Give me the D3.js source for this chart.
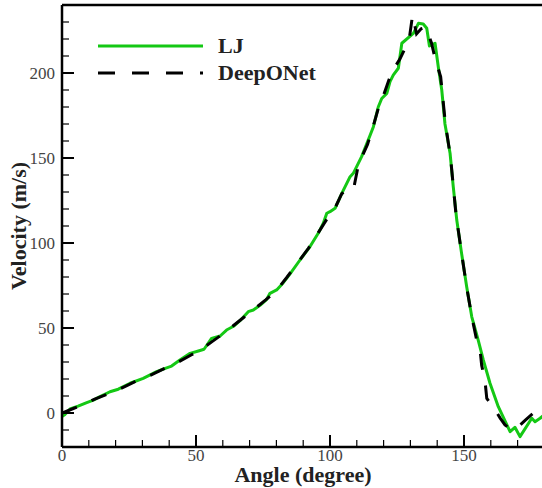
<!DOCTYPE html>
<html>
<head>
<meta charset="utf-8" />
<title>Velocity vs angle</title>
<script src="https://d3js.org/d3.v7.min.js"></script>
<style>
html, body { margin: 0; background: #fff; }
svg { display: block; }
</style>
</head>
<body>
<script>
// LJ reference curve (angle in degree, velocity in m/s)
var ljAngle = [0, 1, 3, 6, 9, 11.7, 14, 17.9, 21, 25.4, 30.3, 35.3, 38, 40.9, 44, 47.8, 50.9, 53, 55.8, 59,
  61.4, 64, 66.4, 69.5, 71.4, 74, 76.4, 77.6, 80.1, 82.5, 85.1, 88.8, 92.5, 95.6, 97.5, 98.8, 100, 101.9, 104.4, 107.5,
  108.7, 111.8, 115, 116.2, 118, 119.3, 121.2, 122.4, 123.6, 125.5, 126.8, 131.1, 133, 134.8, 136.1, 137.1, 139.2, 140.4, 141.7, 142.9,
  144.8, 146, 147.3, 149.1, 151, 152.9, 155.3, 157.2, 159.7, 162.8, 167.2, 169, 170.9, 175.3, 176.5, 178.4, 180];
var ljVel = [-2, -1, 2.4, 4, 6, 7.6, 9.5, 12.5, 14, 17.5, 20.4, 24.3, 26, 27.6, 31.2, 35.1, 36.5, 37.5, 43.9, 45.3,
  48.8, 51, 54.3, 59.6, 60.6, 63.5, 66.9, 70.4, 72.4, 76.5, 81.8, 90, 97.8, 105.7, 111.6, 117.5, 118.4, 120.4, 129.2, 139,
  141, 150.8, 163.5, 168.4, 180, 185, 188, 194.9, 198.8, 202.8, 217.5, 223.3, 229.2, 228.8, 226.3, 215.9, 217.5, 203.7, 190, 170,
  152.8, 133, 113.5, 93.9, 74.3, 56.6, 42.9, 31.2, 17.5, 3.7, -11, -8.4, -13.9, -3.1, -5.1, -3.1, -1];

// DeepONet prediction
var donAngle = [0, 4, 8, 12, 16, 20, 24, 28, 32, 36, 40, 44, 48, 52, 56, 60, 64, 68, 72, 76,
  80, 84, 88, 92, 96, 98, 100, 102, 104.4, 106, 108.7, 110.6, 112, 114, 116, 118, 120, 122, 124, 126,
  128, 129.6, 130.8, 132.3, 134, 135.8, 137.9, 139.2, 141.3, 143, 145, 147, 149, 151, 153, 154.7, 156, 156.6, 157.8, 158.5,
  161.6, 163.5, 165.3, 167.8, 170.3, 173, 176.5, 177.2, 178.7];
var donVel = [0, 2.5, 5, 8, 10.5, 13, 16, 19, 21.5, 24.5, 27.5, 30.5, 34, 37.5, 42, 46.5, 51.5, 56.5, 61.5, 66.5,
  72, 80, 88.5, 97, 107, 112, 117, 121, 129, 131, 131, 146, 151, 158, 168, 179, 187, 196, 203, 208,
  214.5, 220.4, 234, 223, 226, 227, 217.5, 208.6, 197.8, 171, 150, 117, 95, 74, 56, 43, 37, 28, 19.4, 8.6,
  1.8, -3, -7, -10, -8, -4, 0.8, 1.8, -0.6];

var xTicks = [0, 50, 100, 150];
var yTicks = [0, 50, 100, 150, 200];

var serif = "'Liberation Serif', serif";

var W = 542, H = 488;
var x = d3.scaleLinear().domain([0, 180]).range([62, 544.4]);
var y = d3.scaleLinear().domain([-20, 240]).range([447, 5]);

var svg = d3.select("body").append("svg").attr("width", W).attr("height", H);

svg.append("clipPath").attr("id", "plot")
  .append("rect").attr("x", 62).attr("y", 5).attr("width", 482.4).attr("height", 442);

var lj = ljAngle.map(function(a, i) { return [a, ljVel[i]]; });
var don = donAngle.map(function(a, i) { return [a, donVel[i]]; });
var line = d3.line().x(function(d) { return x(d[0]); }).y(function(d) { return y(d[1]); });

var g = svg.append("g").attr("clip-path", "url(#plot)");
g.append("path").datum(lj).attr("d", line)
  .attr("fill", "none").attr("stroke", "#14c814").attr("stroke-width", 3).attr("stroke-linejoin", "round");
g.append("path").datum(don).attr("d", line)
  .attr("fill", "none").attr("stroke", "#000").attr("stroke-width", 3).attr("stroke-dasharray", "16,16");

// ticks (pointing inward)
var minorX = d3.range(10, 180, 10).filter(function(v) { return v % 50; });
var minorY = d3.range(-10, 240, 10).filter(function(v) { return v % 50; });

svg.selectAll(".xmaj").data(xTicks).enter().append("line")
  .attr("x1", x).attr("x2", x).attr("y1", y(-20)).attr("y2", y(-20) - 12)
  .attr("stroke", "#000").attr("stroke-width", 2);
svg.selectAll(".xmin").data(minorX).enter().append("line")
  .attr("x1", x).attr("x2", x).attr("y1", y(-20)).attr("y2", y(-20) - 7)
  .attr("stroke", "#000").attr("stroke-width", 1.2);
svg.selectAll(".ymaj").data(yTicks).enter().append("line")
  .attr("y1", y).attr("y2", y).attr("x1", x(0)).attr("x2", x(0) + 12)
  .attr("stroke", "#000").attr("stroke-width", 2);
svg.selectAll(".ymin").data(minorY).enter().append("line")
  .attr("y1", y).attr("y2", y).attr("x1", x(0)).attr("x2", x(0) + 7)
  .attr("stroke", "#000").attr("stroke-width", 1.2);

// frame
svg.append("line").attr("x1", 62).attr("x2", 544).attr("y1", y(-20)).attr("y2", y(-20)).attr("stroke", "#000").attr("stroke-width", 2.5);
svg.append("line").attr("x1", 62).attr("x2", 544).attr("y1", y(240)).attr("y2", y(240)).attr("stroke", "#000").attr("stroke-width", 2.5);
svg.append("line").attr("x1", 62).attr("x2", 62).attr("y1", y(240)).attr("y2", y(-20)).attr("stroke", "#000").attr("stroke-width", 2.5);

// tick labels
svg.selectAll(".xl").data(xTicks).enter().append("text")
  .style("font-family", serif).style("font-size", "17px").attr("fill", "#444")
  .attr("x", x).attr("y", 461).attr("text-anchor", "middle").text(function(d) { return d; });
svg.selectAll(".yl").data(yTicks).enter().append("text")
  .style("font-family", serif).style("font-size", "17px").attr("fill", "#444")
  .attr("x", 55).attr("y", function(d) { return y(d) + 6; }).attr("text-anchor", "end").text(function(d) { return d; });

// axis titles
function title(sel) {
  return sel.style("font-family", serif).style("font-size", "22px").style("font-weight", "bold").attr("fill", "#222");
}
svg.append("text").call(title).attr("x", 303).attr("y", 482).attr("text-anchor", "middle").text("Angle (degree)");
svg.append("text").call(title).attr("transform", "translate(26,226) rotate(-90)")
  .attr("text-anchor", "middle").text("Velocity (m/s)");

// legend
svg.append("line").attr("x1", 98).attr("x2", 203).attr("y1", 46).attr("y2", 46)
  .attr("stroke", "#14c814").attr("stroke-width", 3);
svg.append("line").attr("x1", 98).attr("x2", 203).attr("y1", 73).attr("y2", 73)
  .attr("stroke", "#000").attr("stroke-width", 3).attr("stroke-dasharray", "17,17");
svg.append("text").call(title).attr("x", 218).attr("y", 53).text("LJ");
svg.append("text").call(title).attr("x", 218).attr("y", 80).text("DeepONet");
</script>
</body>
</html>
